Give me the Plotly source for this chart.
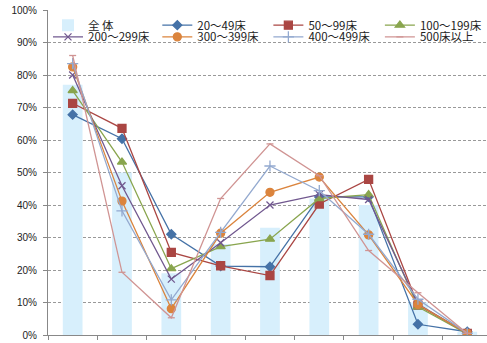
import plotly.graph_objects as go

categories = ["c1", "c2", "c3", "c4", "c5", "c6", "c7", "c8", "c9"]
overall_name = "全 体"
overall = [77, 50, 19, 28, 33, 42, 40, 10, 1]

series_names = ["20～49床", "50～99床", "100～199床", "200～299床", "300～399床", "400～499床", "500床以上"]
s20_49 = [67.8, 60.4, 31, 21.2, 21, 42.5, 42.5, 3.3, 1]
s50_99 = [71.3, 63.6, 25.4, 21.3, 18.3, 40.3, 47.9, 9.2, 0.5]
s100_199 = [75.2, 53.2, 20.4, 27.2, 29.5, 42, 43.2, 8.7, 0.3]
s200_299 = [80, 45.9, 17.2, 28.4, 40, 43.2, 41.7, 9.5, 0.5]
s300_399 = [82.5, 41.2, 8.1, 31.3, 43.9, 48.6, 30.8, 9.4, 0.5]
s400_499 = [83.5, 38.2, 10.8, 31.6, 52, 44.4, 31, 11, 0.5]
s500 = [86, 19.3, 5.3, 42, 58.8, 49, 26, 13, 0.5]
y_ticks = [0, 10, 20, 30, 40, 50, 60, 70, 80, 90, 100]

series_values = [s20_49, s50_99, s100_199, s200_299, s300_399, s400_499, s500]
colors = ["#4572A7", "#AA4643", "#89A54E", "#71588F", "#DB843D", "#93A9CF", "#D09493"]
symbols = ["diamond", "square", "triangle-up", "x-thin-open", "circle", "cross-thin-open", "line-ew-open"]
sizes = [7, 8, 8, 7, 8, 8, 5]

# legend slot positions (paper coords): 4 columns x 2 rows
col_x = [0.0, 0.249, 0.502, 0.756]
row_y = [0.998, 0.962]

x = list(range(len(categories)))
fig = go.Figure()
fig.add_trace(go.Bar(x=x, y=overall, name=overall_name, legend="legend",
                     marker=dict(color="#D7EFFC", line=dict(width=0)), width=0.4))
for i, (name, vals, c, s, sz) in enumerate(zip(series_names, series_values, colors, symbols, sizes)):
    lg = f"legend{i + 2}"
    fig.add_trace(go.Scatter(x=x, y=vals, name=name, mode="lines+markers", legend=lg,
                             line=dict(color=c, width=1.3),
                             marker=dict(symbol=s, size=sz, color=c, line=dict(color=c, width=1.3))))

legend_common = dict(orientation="v", xanchor="left", yanchor="top", bgcolor="rgba(0,0,0,0)",
                     font=dict(size=11.5, color="#222"), itemwidth=30)
layout_legends = {}
for k in range(8):
    key = "legend" if k == 0 else f"legend{k + 1}"
    layout_legends[key] = dict(x=col_x[k % 4], y=row_y[k // 4], **legend_common)

fig.update_layout(
    width=487, height=343,
    margin=dict(l=48, r=0, t=10, b=8),
    paper_bgcolor="white", plot_bgcolor="white",
    font=dict(family="Noto Sans CJK JP", size=10, color="#222"),
    showlegend=True,
    **layout_legends,
)
fig.update_xaxes(range=[-0.5, 8.4], showticklabels=False, showgrid=False, zeroline=False,
                 showline=True, linecolor="#888", linewidth=1,
                 tickmode="array", tickvals=[i - 0.5 for i in range(10)], ticks="outside",
                 ticklen=4, tickcolor="#888")
fig.update_yaxes(range=[0, 100], tickvals=y_ticks, ticktext=[f"{v}%" for v in y_ticks],
                 showgrid=True, gridcolor="#999", griddash="3px,2px", gridwidth=1,
                 zeroline=False, showline=True, linecolor="#888", linewidth=1,
                 ticks="outside", ticklen=4, tickcolor="#888", ticklabelstandoff=4,
                 tickfont=dict(family="Liberation Sans", size=10, color="#222"))
fig.write_html("out.html")
